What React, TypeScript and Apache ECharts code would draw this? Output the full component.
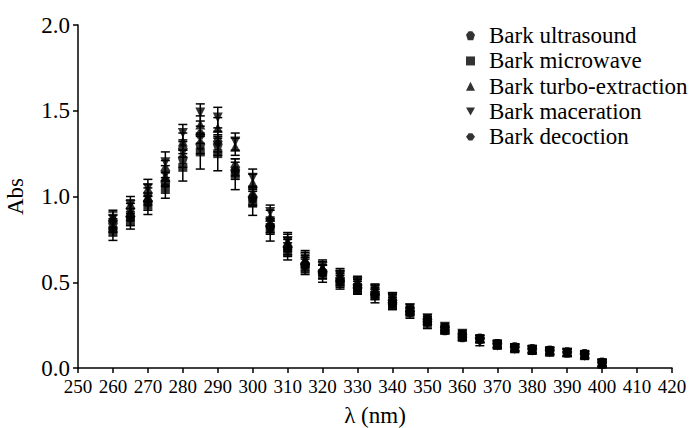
import React, { useEffect, useRef } from "react";
import * as echarts from "echarts";

const wavelengths = [260, 265, 270, 275, 280, 285, 290, 295, 300, 305, 310, 315, 320, 325, 330, 335, 340, 345, 350, 355, 360, 365, 370, 375, 380, 385, 390, 395, 400];

const ultrasound = [0.84, 0.88, 0.97, 1.08, 1.22, 1.30, 1.30, 1.15, 0.99, 0.82, 0.70, 0.60, 0.56, 0.52, 0.48, 0.44, 0.39, 0.33, 0.28, 0.23, 0.19, 0.17, 0.14, 0.12, 0.11, 0.10, 0.09, 0.08, 0.03];
const microwave = [0.80, 0.86, 0.95, 1.05, 1.17, 1.26, 1.25, 1.13, 0.97, 0.81, 0.68, 0.59, 0.55, 0.50, 0.46, 0.42, 0.37, 0.32, 0.26, 0.22, 0.18, 0.17, 0.14, 0.12, 0.11, 0.10, 0.09, 0.08, 0.03];
const turbo = [0.82, 0.91, 1.00, 1.12, 1.32, 1.42, 1.40, 1.29, 1.08, 0.88, 0.73, 0.63, 0.58, 0.53, 0.49, 0.45, 0.40, 0.34, 0.28, 0.23, 0.19, 0.17, 0.14, 0.12, 0.11, 0.10, 0.09, 0.08, 0.03];
const maceration = [0.87, 0.95, 1.05, 1.20, 1.37, 1.49, 1.46, 1.32, 1.11, 0.91, 0.74, 0.64, 0.59, 0.54, 0.50, 0.46, 0.41, 0.35, 0.29, 0.24, 0.20, 0.15, 0.13, 0.11, 0.10, 0.09, 0.09, 0.07, 0.02];
const decoction = [0.86, 0.93, 1.02, 1.15, 1.28, 1.36, 1.32, 1.17, 1.00, 0.83, 0.71, 0.61, 0.56, 0.51, 0.47, 0.43, 0.38, 0.33, 0.27, 0.22, 0.18, 0.17, 0.14, 0.12, 0.11, 0.10, 0.09, 0.08, 0.03];

const errCommon = [0.05, 0.05, 0.05, 0.06, 0.05, 0.05, 0.06, 0.05, 0.05, 0.04, 0.05, 0.045, 0.04, 0.04, 0.035, 0.03, 0.03, 0.02, 0.02, 0.02, 0.02, 0.02, 0.02, 0.02, 0.02, 0.02, 0.02, 0.02, 0.02];
const errMicrowave = [0.056, 0.05, 0.055, 0.06, 0.08, 0.10, 0.10, 0.09, 0.08, 0.07, 0.05, 0.045, 0.05, 0.04, 0.03, 0.04, 0.03, 0.03, 0.03, 0.02, 0.02, 0.02, 0.02, 0.02, 0.02, 0.02, 0.02, 0.02, 0.02];

const seriesNames = ["Bark ultrasound", "Bark microwave", "Bark turbo-extraction", "Bark maceration", "Bark decoction"];

const FONT = "'Liberation Serif', 'Times New Roman', serif";

const symbols = [
  "path://M3,0 L7,0 L10,4 L8,10 L2,10 L0,4 Z",
  "rect",
  "triangle",
  "path://M0,0 L10,0 L5,9 Z",
  "path://M0,5 L3,1 L7,1 L10,5 L7,9 L3,9 Z",
];

export default function App() {
  const ref = useRef<HTMLDivElement>(null);

  useEffect(() => {
    if (!ref.current) return;
    const chart = echarts.init(ref.current, undefined, { renderer: "svg" });

    const values = [ultrasound, microwave, turbo, maceration, decoction];
    const errs = [errCommon, errMicrowave, errCommon, errCommon, errCommon];

    const errorSeries = values.map((vals, si) => ({
      type: "custom",
      name: "err" + si,
      z: 1,
      silent: true,
      data: wavelengths.map((w, i) => [w, vals[i], errs[si][i]]),
      renderItem: (params: any, api: any) => {
        const x = api.value(0);
        const y = api.value(1);
        const e = api.value(2);
        const top = api.coord([x, y + e]);
        const bot = api.coord([x, y - e]);
        const hw = 4.5;
        const st = { stroke: "#000", lineWidth: 1.5 };
        return {
          type: "group",
          children: [
            { type: "line", shape: { x1: top[0], y1: top[1], x2: bot[0], y2: bot[1] }, style: st },
            { type: "line", shape: { x1: top[0] - hw, y1: top[1], x2: top[0] + hw, y2: top[1] }, style: st },
            { type: "line", shape: { x1: bot[0] - hw, y1: bot[1], x2: bot[0] + hw, y2: bot[1] }, style: st },
          ],
        };
      },
    }));

    const scatterSeries = values.map((vals, si) => ({
      type: "scatter",
      name: seriesNames[si],
      z: 3,
      symbol: symbols[si],
      symbolSize: si === 1 ? 9 : 10,
      itemStyle: { color: "#000" },
      data: wavelengths.map((w, i) => [w, vals[i]]),
    }));

    chart.setOption({
      animation: false,
      backgroundColor: "#fff",
      grid: { left: 78, right: 28, top: 25, bottom: 60, containLabel: false, outerBoundsMode: "none" },
      legend: {
        data: seriesNames,
        orient: "vertical",
        left: 461,
        top: 18,
        itemWidth: 9,
        itemHeight: 9,
        itemGap: 0,
        textStyle: { fontFamily: FONT, fontSize: 23, color: "#000", lineHeight: 25.3, padding: [0, 0, 0, 9] },
      },
      xAxis: {
        type: "value",
        min: 250,
        max: 420,
        interval: 10,
        name: "λ (nm)",
        nameLocation: "middle",
        nameGap: 36,
        nameTextStyle: { fontFamily: FONT, fontSize: 23, color: "#000" },
        axisLine: { lineStyle: { color: "#000", width: 1.5 } },
        axisTick: { inside: false, length: 5, lineStyle: { color: "#000", width: 1.5 } },
        axisLabel: { fontFamily: FONT, fontSize: 19, color: "#000", margin: 9 },
        splitLine: { show: false },
      },
      yAxis: {
        type: "value",
        min: 0,
        max: 2,
        interval: 0.5,
        name: "Abs",
        nameLocation: "middle",
        nameGap: 51,
        nameTextStyle: { fontFamily: FONT, fontSize: 23, color: "#000" },
        axisLine: { show: true, lineStyle: { color: "#000", width: 1.5 } },
        axisTick: { show: true, inside: false, length: 5, lineStyle: { color: "#000", width: 1.5 } },
        axisLabel: { fontFamily: FONT, fontSize: 23, color: "#000", margin: 8, formatter: (v: number) => v.toFixed(1) },
        splitLine: { show: false },
      },
      series: [...errorSeries, ...scatterSeries],
    });

    return () => chart.dispose();
  }, []);

  return <div ref={ref} style={{ width: 700, height: 428, position: "absolute", left: 0, top: 0 }} />;
}
